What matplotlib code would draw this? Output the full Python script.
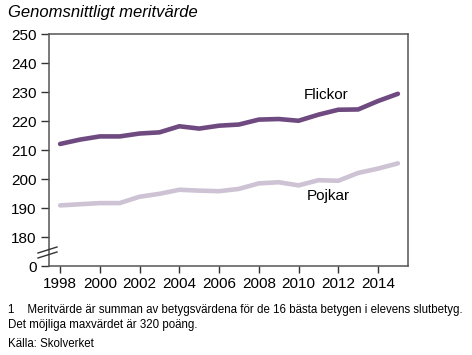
import numpy as np
import matplotlib
matplotlib.use('Agg')
import matplotlib.pyplot as plt

years = list(range(1998, 2016))
flickor = [212.1, 213.6, 214.7, 214.7, 215.7, 216.1, 218.2, 217.4, 218.4, 218.8,
           220.5, 220.7, 220.1, 222.2, 223.9, 224.0, 226.9, 229.4]
pojkar = [190.9, 191.3, 191.7, 191.7, 193.9, 194.9, 196.3, 196.0, 195.8, 196.6,
          198.5, 198.9, 197.8, 199.6, 199.4, 202.1, 203.6, 205.4]
yticks = [170, 180, 190, 200, 210, 220, 230, 240, 250]
ytick_labels = ['0', '180', '190', '200', '210', '220', '230', '240', '250']
xticks = list(range(1998, 2015, 2))

plt.rcParams['font.family'] = ['Liberation Sans', 'DejaVu Sans']

fig = plt.figure(figsize=(4.72, 3.55), dpi=100)
ax = fig.add_axes([0.1038, 0.2507, 0.7602, 0.6533])

ax.plot(years, pojkar, color='#cdc3d4', lw=3.3, solid_capstyle='round')
ax.plot(years, flickor, color='#6f4a80', lw=3.3, solid_capstyle='round')

ax.set_xlim(1997.44, 2015.5)
ax.set_ylim(170, 250)
ax.set_yticks(yticks)
ax.set_yticklabels(ytick_labels)
ax.set_xticks(xticks)
ax.tick_params(axis='y', length=6, width=1, direction='out', labelsize=11, pad=3, colors='#333333', labelcolor='black')
ax.tick_params(axis='x', length=5, width=1, direction='out', labelsize=11, pad=3, colors='#333333', labelcolor='black')
for s in ax.spines.values():
    s.set_color('#555555')
    s.set_linewidth(1.1)

# axis break marks
for yb in (250, 255):
    fig.add_artist(plt.Line2D([38 / 472, 57 / 472], [1 - (yb + 3) / 355, 1 - (yb - 3) / 355],
                              color='#333333', lw=1.0))

ax.text(2011.4, 228.9, 'Flickor', fontsize=11, ha='center', va='center')
ax.text(2011.5, 194.1, 'Pojkar', fontsize=11, ha='center', va='center')

fig.text(8 / 472, 1 - 12 / 355, 'Genomsnittligt meritvärde', fontsize=12, style='italic',
         ha='left', va='center')
fig.text(8 / 472, 1 - 310 / 355,
         '1    Meritvärde är summan av betygsvärdena för de 16 bästa betygen i elevens slutbetyg.',
         fontsize=8.3, ha='left', va='center')
fig.text(8 / 472, 1 - 325 / 355, 'Det möjliga maxvärdet är 320 poäng.', fontsize=8.3, ha='left', va='center')
fig.text(8 / 472, 1 - 344 / 355, 'Källa: Skolverket', fontsize=8.3, ha='left', va='center')

fig.savefig('out.png', dpi=100)
